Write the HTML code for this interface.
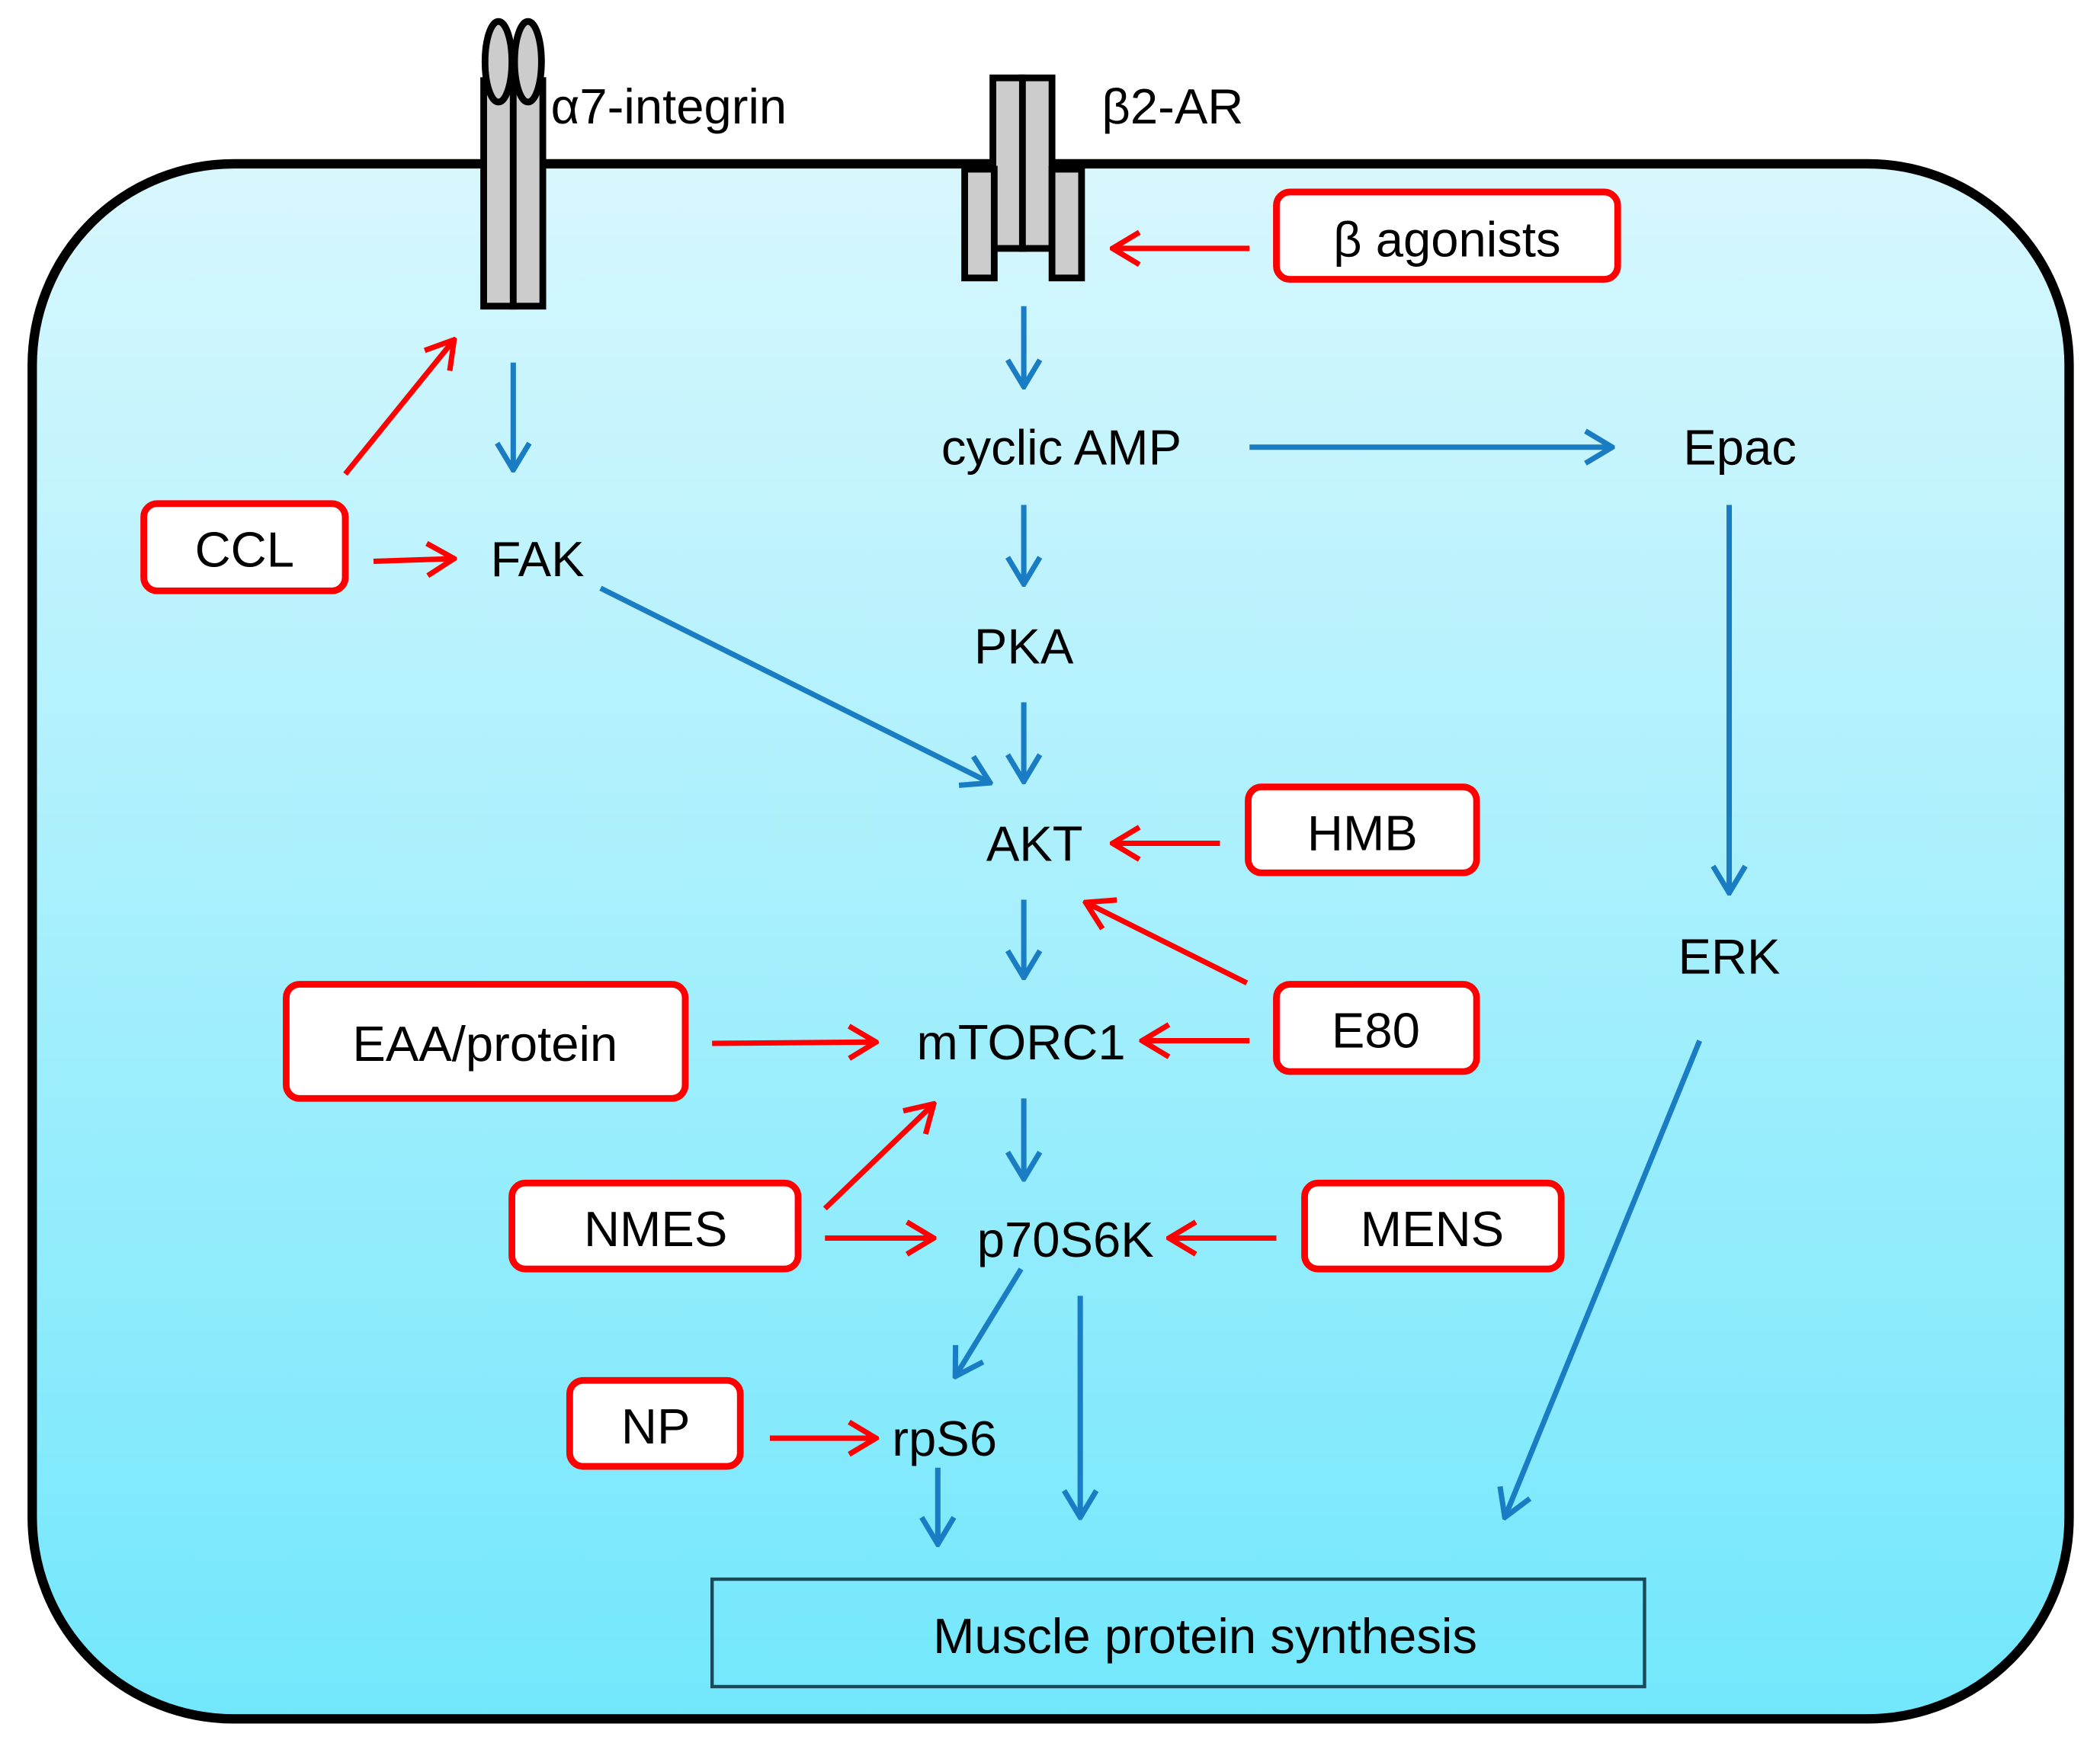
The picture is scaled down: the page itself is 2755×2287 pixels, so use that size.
<!DOCTYPE html>
<html><head><meta charset="utf-8"><style>
html,body{margin:0;padding:0;background:#fff;}
svg{display:block;}
text{font-family:"Liberation Sans","DejaVu Sans",sans-serif;font-size:37px;fill:#000;}
</style></head><body>
<svg width="2755" height="2287" viewBox="0 0 1563 1298" preserveAspectRatio="none" xmlns="http://www.w3.org/2000/svg">
<defs>
<linearGradient id="g" x1="0" y1="0" x2="0" y2="1">
<stop offset="0" stop-color="#d8f7fd"/><stop offset="1" stop-color="#72e7fc"/>
</linearGradient>
<marker id="mb" viewBox="0 0 24 28" refX="22" refY="14" markerWidth="24" markerHeight="28" markerUnits="userSpaceOnUse" orient="auto">
<path d="M2,2 L22,14 L2,26" fill="none" stroke="#1a7dc4" stroke-width="4"/></marker>
<marker id="mr" viewBox="0 0 24 28" refX="22" refY="14" markerWidth="24" markerHeight="28" markerUnits="userSpaceOnUse" orient="auto">
<path d="M2,2 L22,14 L2,26" fill="none" stroke="#ff0000" stroke-width="4"/></marker>
</defs>
<rect x="24" y="122" width="1516" height="1158" rx="150" ry="150" fill="url(#g)" stroke="#000" stroke-width="7"/>
<!-- integrin -->
<g stroke="#000" stroke-width="5" fill="#ccc">
<rect x="360" y="60" width="22" height="168"/><rect x="382" y="60" width="22" height="168"/>
<ellipse cx="371" cy="46" rx="10" ry="30"/><ellipse cx="393" cy="46" rx="10" ry="30"/>
<rect x="739" y="58" width="22" height="127"/><rect x="761" y="58" width="22" height="127"/>
<rect x="718" y="126" width="22" height="81"/><rect x="783" y="126" width="22" height="81"/>
</g>
<text x="410" y="92">α7-integrin</text>
<text x="820" y="92">β2-AR</text>
<!-- boxes -->
<g fill="#fff" stroke="#ff0000" stroke-width="5">
<rect x="950" y="143" width="254" height="65" rx="10"/>
<rect x="107" y="375" width="150" height="65" rx="10"/>
<rect x="929" y="586" width="170" height="64" rx="10"/>
<rect x="950" y="733" width="149" height="65" rx="10"/>
<rect x="213" y="733" width="297" height="85" rx="10"/>
<rect x="381" y="881" width="213" height="64" rx="10"/>
<rect x="971" y="881" width="191" height="64" rx="10"/>
<rect x="424" y="1028" width="127" height="64" rx="10"/>
</g>
<rect x="530" y="1176" width="694" height="80" fill="none" stroke="#1a4a5a" stroke-width="2.5"/>
<g text-anchor="middle">
<text x="1077" y="191">β agonists</text>
<text x="182" y="422">CCL</text>
<text x="1014" y="633">HMB</text>
<text x="1024" y="780">E80</text>
<text x="361" y="790">EAA/protein</text>
<text x="488" y="928">NMES</text>
<text x="1066" y="928">MENS</text>
<text x="488" y="1075">NP</text>
<text x="897" y="1231">Muscle protein synthesis</text>
<text x="790" y="346">cyclic AMP</text>
<text x="1295" y="346">Epac</text>
<text x="400" y="429">FAK</text>
<text x="762" y="494">PKA</text>
<text x="770" y="641">AKT</text>
<text x="1287" y="725">ERK</text>
<text x="760" y="789">mTORC1</text>
<text x="793" y="936">p70S6K</text>
<text x="703" y="1084">rpS6</text>
</g>
<g stroke="#1a7dc4" stroke-width="4" fill="none" marker-end="url(#mb)">
<line x1="762" y1="228" x2="762" y2="288"/>
<line x1="382" y1="270" x2="382" y2="350"/>
<line x1="930" y1="333" x2="1200" y2="333"/>
<line x1="762" y1="376" x2="762" y2="435"/>
<line x1="1287" y1="376" x2="1287" y2="665"/>
<line x1="447" y1="438" x2="737" y2="583"/>
<line x1="762" y1="523" x2="762" y2="582"/>
<line x1="762" y1="670" x2="762" y2="728"/>
<line x1="762" y1="818" x2="762" y2="878"/>
<line x1="760" y1="945" x2="711" y2="1025"/>
<line x1="804" y1="965" x2="804" y2="1130"/>
<line x1="1265" y1="775" x2="1120" y2="1130"/>
<line x1="698" y1="1093" x2="698" y2="1150"/>
</g>
<g stroke="#ff0000" stroke-width="4" fill="none" marker-end="url(#mr)">
<line x1="930" y1="185" x2="828" y2="185"/>
<line x1="257" y1="353" x2="338" y2="253"/>
<line x1="278" y1="418" x2="338" y2="416"/>
<line x1="908" y1="628" x2="828" y2="628"/>
<line x1="928" y1="732" x2="808" y2="672"/>
<line x1="530" y1="777" x2="652" y2="776"/>
<line x1="930" y1="775" x2="850" y2="775"/>
<line x1="614" y1="900" x2="695" y2="822"/>
<line x1="614" y1="922" x2="695" y2="922"/>
<line x1="950" y1="922" x2="870" y2="922"/>
<line x1="573" y1="1071" x2="652" y2="1071"/>
</g>
</svg>
</body></html>
